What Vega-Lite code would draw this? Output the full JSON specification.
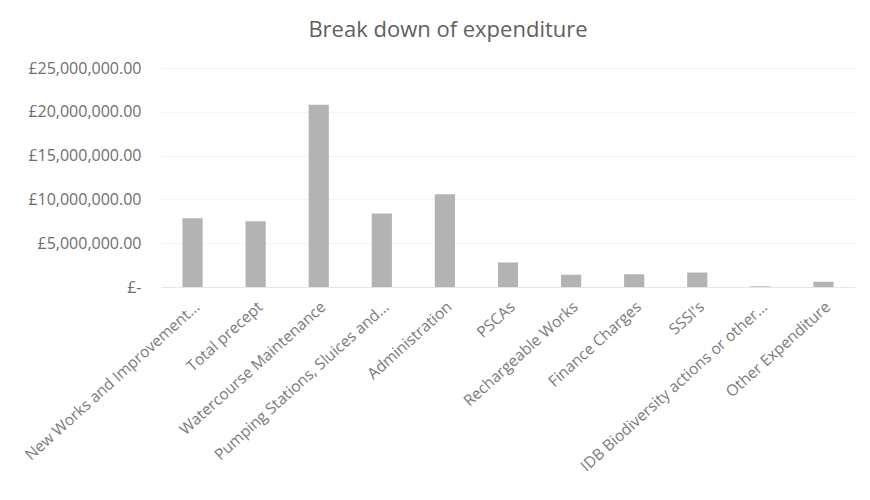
{
  "$schema": "https://vega.github.io/schema/vega-lite/v6.json",
  "autosize": "none",
  "width": 694,
  "height": 219,
  "padding": {"left": 161, "top": 68, "right": 15, "bottom": 213},
  "background": "white",
  "title": {
    "text": "Break down of expenditure",
    "font": "Open Sans",
    "fontSize": 22,
    "fontWeight": "normal",
    "color": "#606060",
    "anchor": "middle",
    "frame": "group",
    "offset": 18,
    "dx": -60
  },
  "data": {
    "values": [
      {"category": "New Works and Improvement...", "amount": 7840000},
      {"category": "Total precept", "amount": 7500000},
      {"category": "Watercourse Maintenance", "amount": 20800000},
      {"category": "Pumping Stations, Sluices and...", "amount": 8400000},
      {"category": "Administration", "amount": 10600000},
      {"category": "PSCAs", "amount": 2800000},
      {"category": "Rechargeable Works", "amount": 1400000},
      {"category": "Finance Charges", "amount": 1450000},
      {"category": "SSSI's", "amount": 1650000},
      {"category": "IDB Biodiversity  actions or other...", "amount": 80000},
      {"category": "Other Expenditure", "amount": 600000}
    ]
  },
  "mark": {"type": "bar", "color": "#b3b3b3"},
  "encoding": {
    "x": {
      "field": "category",
      "type": "nominal",
      "sort": null,
      "scale": {"paddingInner": 0.68, "paddingOuter": 0.34},
      "axis": {
        "title": null,
        "labelAngle": -42,
        "labelFont": "Open Sans",
        "labelFontSize": 15.5,
        "labelColor": "#7a7a7a",
        "labelLimit": 300,
        "labelPadding": 12,
        "ticks": false,
        "domainColor": "#e6e6e6"
      }
    },
    "y": {
      "field": "amount",
      "type": "quantitative",
      "scale": {"domain": [0, 25000000], "nice": false},
      "axis": {
        "title": null,
        "values": [0, 5000000, 10000000, 15000000, 20000000, 25000000],
        "labelExpr": "datum.value == 0 ? '£-' : '£' + format(datum.value, ',.2f')",
        "labelFont": "Open Sans",
        "labelFontSize": 16,
        "labelColor": "#6e6e6e",
        "labelPadding": 20,
        "ticks": false,
        "domain": false,
        "gridColor": "#f4f4f4"
      }
    }
  },
  "config": {"view": {"stroke": null}}
}
